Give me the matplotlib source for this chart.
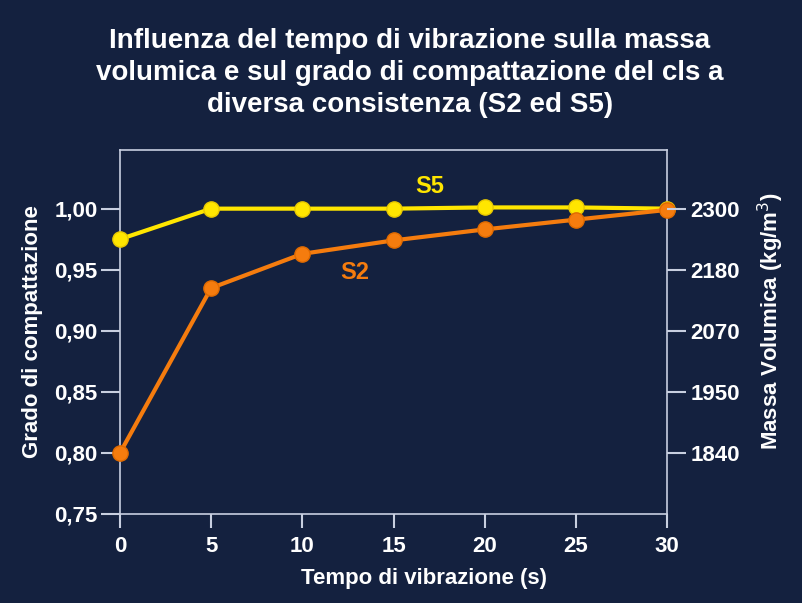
import matplotlib.pyplot as plt
from matplotlib.ticker import FixedLocator

# dati
tempo = [0, 5, 10, 15, 20, 25, 30]
s5 = [0.975, 1.000, 1.000, 1.000, 1.001, 1.001, 1.000]
s2 = [0.800, 0.935, 0.963, 0.974, 0.983, 0.991, 0.999]
left_ticks = [0.75, 0.80, 0.85, 0.90, 0.95, 1.00]
left_labels = ['0,75', '0,80', '0,85', '0,90', '0,95', '1,00']
right_ticks = [0.80, 0.85, 0.90, 0.95, 1.00]
right_labels = ['1840', '1950', '2070', '2180', '2300']

bg = '#14213f'
yellow = '#ffe600'
orange = '#f57c0e'
spine = '#c8cfe0'
fam = ['Liberation Sans', 'DejaVu Sans']
lab = dict(family=fam, fontsize=16, fontweight='bold', color='white')

fig = plt.figure(figsize=(8.02, 6.03), dpi=100, facecolor=bg)
ax = fig.add_axes([0.1496, 0.1476, 0.6821, 0.6036])
ax.set_facecolor(bg)

ax.plot(tempo, s5, color=yellow, lw=3, marker='o', ms=11, mfc=yellow, mec='#e8c800', zorder=4, clip_on=False)
ax.plot(tempo, s2, color=orange, lw=3, marker='o', ms=11, mfc=orange, mec='#e06a00', zorder=5, clip_on=False)

ax.set_xlim(0, 30)
ax.set_ylim(0.75, 1.048)
ax.set_xticks(tempo)
ax.set_xticklabels([str(t) for t in tempo], **lab)
ax.yaxis.set_major_locator(FixedLocator(left_ticks))
ax.set_yticklabels(left_labels, **lab)

for s in ax.spines.values():
    s.set_color(spine)
    s.set_linewidth(1.2)
ax.tick_params(axis='y', colors=spine, length=14, width=1.5, direction='out', pad=2, labelcolor='white')
ax.tick_params(axis='x', colors=spine, length=10, width=1.5, direction='out', pad=6, labelcolor='white')

ax.set_xlabel('Tempo di vibrazione (s)', va='center', ha='center', **lab)
ax.xaxis.set_label_coords(0.556, -0.176)
ax.set_ylabel('Grado di compattazione', va='center', ha='center', **lab)
ax.yaxis.set_label_coords(-0.159, 0.5)

ax2 = ax.twinx()
ax2.set_ylim(ax.get_ylim())
ax2.yaxis.set_major_locator(FixedLocator(right_ticks))
ax2.set_yticklabels(right_labels, **lab)
ax2.tick_params(axis='y', colors=spine, length=14, width=1.5, labelcolor='white', pad=3)
for s in ax2.spines.values():
    s.set_visible(False)
ax2.set_ylabel('Massa Volumica (kg/m$^3$)', va='center', ha='center', **lab)
ax2.yaxis.set_label_coords(1.19, 0.53)

ax.text(17.0, 1.018, 'S5', color=yellow, fontsize=17, fontweight='bold', family=fam, ha='center', va='center')
ax.text(12.9, 0.948, 'S2', color=orange, fontsize=17, fontweight='bold', family=fam, ha='center', va='center')

fig.text(0.511, 0.805, 'Influenza del tempo di vibrazione sulla massa\n'
         'volumica e sul grado di compattazione del cls a\n'
         'diversa consistenza (S2 ed S5)',
         ha='center', va='bottom', color='white', fontsize=20, fontweight='bold',
         family=fam, linespacing=1.3)

plt.savefig('out.png', dpi=100, facecolor=bg)
